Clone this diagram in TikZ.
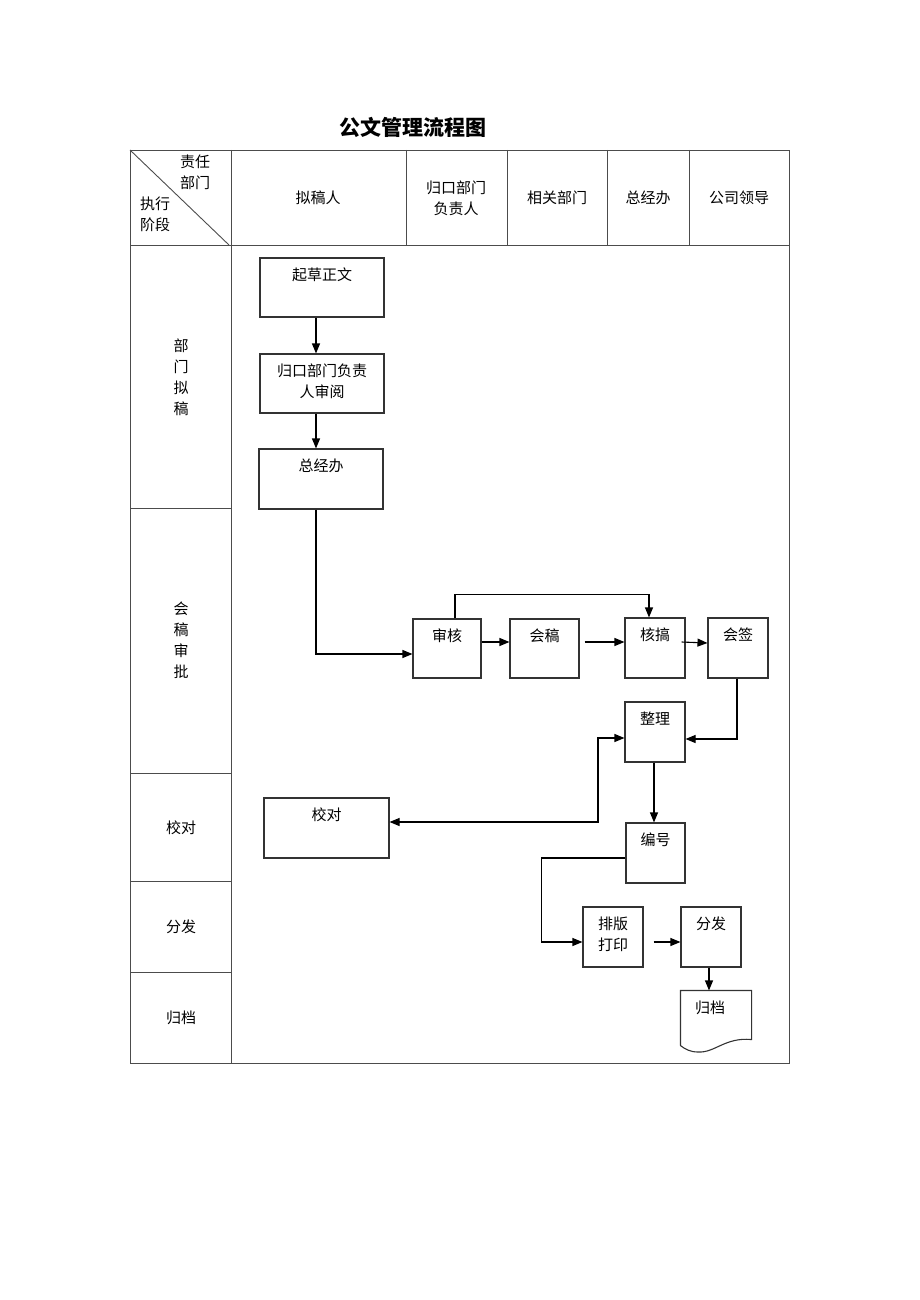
\documentclass[tikz,border=0pt]{standalone}
\usepackage{fontspec}
\setmainfont{Noto Sans CJK SC}
\usepackage{tikz}
\usetikzlibrary{arrows.meta,calc,positioning}
\tikzset{%
	tableline/.style = {draw=black!70, line width=0.9pt},
	stepbox/.style   = {draw=black!80, line width=1.1pt, rectangle, inner sep=0pt, minimum width=60pt, minimum height=60pt},
	boxtext/.style   = {anchor=north, inner sep=0pt, yshift=-10pt, align=center},
	arrow/.style     = {line width=1.1pt, -{Triangle[length=10pt,width=8pt]}},
	dblarrow/.style  = {line width=1.1pt, {Triangle[length=10pt,width=8pt]}-{Triangle[length=10pt,width=8pt]}},
}

\begin{document}
\begin{tikzpicture}[x=1pt,y=-1pt,font=\fontsize{15}{21}\selectfont]
	\useasboundingbox (0,0) rectangle (920,1300);
	\node[font=\fontsize{21}{24}\selectfont\bfseries] (title) at (413,127) {公文管理流程图};
	% table
	\draw[tableline] (130,150) rectangle (789,1063);
	\draw[tableline] (130,245) -- (789,245);
	\draw[tableline] (231,150) -- (231,1063);
	\foreach \x in {406,507,607,689} \draw[tableline] (\x,150) -- (\x,245);
	\foreach \y in {508,773,881,972} \draw[tableline] (130,\y) -- (231,\y);
	\draw[tableline] (130,150) -- (229,245);
	\node[align=center] (zeren) at (195,172) {责任\\部门};
	\node[align=center] (jieduan) at (155,214) {执行\\阶段};
	\node (nigaoren) at (318,198) {拟稿人};
	\node[align=center] (fuzeren) at (456,198) {归口部门\\负责人};
	\node (xiangguan) at (557,198) {相关部门};
	\node (zongjing) at (648,198) {总经办};
	\node (lingdao) at (739,198) {公司领导};
	% stages
	\node[align=center] (s-nigao) at (181,377) {部\\门\\拟\\稿};
	\node[align=center] (s-huigao) at (181,640) {会\\稿\\审\\批};
	\node (s-jiaodui) at (181,828) {校对};
	\node (s-fenfa) at (181,927) {分发};
	\node (s-guidang) at (181,1018) {归档};
	% steps
	\node[stepbox, minimum width=124pt, minimum height=59pt, label={[boxtext]north:起草正文}] (qicao) at (322,287.5) {};
	\node[stepbox, minimum width=124pt, minimum height=59pt, label={[boxtext]north:归口部门负责\\人审阅}] (guikou) at (322,383.5) {};
	\node[stepbox, minimum width=124pt, label={[boxtext]north:总经办}] (zongjingban) at (321,479) {};
	\node[stepbox, minimum width=68pt, minimum height=59pt, label={[boxtext]north:审核}] (shenhe) at (447,648.5) {};
	\node[stepbox, minimum width=69pt, minimum height=59pt, label={[boxtext]north:会稿}] (huigao) at (544.5,648.5) {};
	\node[stepbox, label={[boxtext]north:核搞}] (hegao) at (655,648) {};
	\node[stepbox, label={[boxtext]north:会签}] (huiqian) at (738,648) {};
	\node[stepbox, label={[boxtext]north:整理}] (zhengli) at (655,732) {};
	\node[stepbox, minimum width=125pt, label={[boxtext]north:校对}] (jiaodui) at (326.5,828) {};
	\node[stepbox, minimum width=59pt, label={[boxtext]north:编号}] (bianhao) at (655.5,853) {};
	\node[stepbox, label={[boxtext]north:排版\\打印}] (paiban) at (613,937) {};
	\node[stepbox, label={[boxtext]north:分发}] (fenfa) at (711,937) {};
	\node[stepbox, draw=none, minimum width=70pt, label={[boxtext,xshift=-6pt]north:归档}] (guidang) at (716,1021) {};
	\draw[draw=black!80, line width=1.1pt] ([yshift=6]guidang.south west) -- (guidang.north west) -- (guidang.north east) -- ([yshift=12]guidang.south east)
		.. controls (725,1037) and (715,1053) .. (698,1052) .. controls (690,1052) and (685,1049) .. ([yshift=6]guidang.south west);
	% connectors
	\draw[arrow] ([xshift=-6]qicao.south) -- ([xshift=-6]guikou.north);
	\draw[arrow] ([xshift=-6]guikou.south) -- ([xshift=-6]guikou.south |- zongjingban.north);
	\draw[arrow] ([xshift=-5]zongjingban.south) |- ([yshift=-5.5]shenhe.west);
	\draw[arrow] ([yshift=6.5]shenhe.east) -- ([yshift=6.5]huigao.west);
	\draw[arrow, shorten <=5pt] ([yshift=6.5]huigao.east) -- ([yshift=6]hegao.west);
	\draw[arrow] ([xshift=-4,yshift=6]hegao.east) -- ([yshift=5]huiqian.west);
	\draw[arrow] ([xshift=8]shenhe.north) -- ++(0,-24) -| ([xshift=-6]hegao.north);
	\draw[arrow] ([xshift=-1]huiqian.south) |- ([yshift=-7]zhengli.east);
	\draw[arrow] ([xshift=-1]zhengli.south) -- ([xshift=-1]zhengli.south |- bianhao.north);
	\coordinate (jd-turn) at (598,822);
	\draw[dblarrow] ([yshift=-6]zhengli.west) -| (jd-turn) -- ([yshift=6]jiaodui.east);
	\draw[arrow] ([yshift=-5]bianhao.west) -- ++(-84,0) |- ([yshift=-5]paiban.west);
	\draw[arrow, shorten <=10pt] ([yshift=-5]paiban.east) -- ([yshift=-5]fenfa.west);
	\draw[arrow] ([xshift=-2]fenfa.south) -- ([xshift=-2]fenfa.south |- guidang.north);
\end{tikzpicture}
\end{document}
